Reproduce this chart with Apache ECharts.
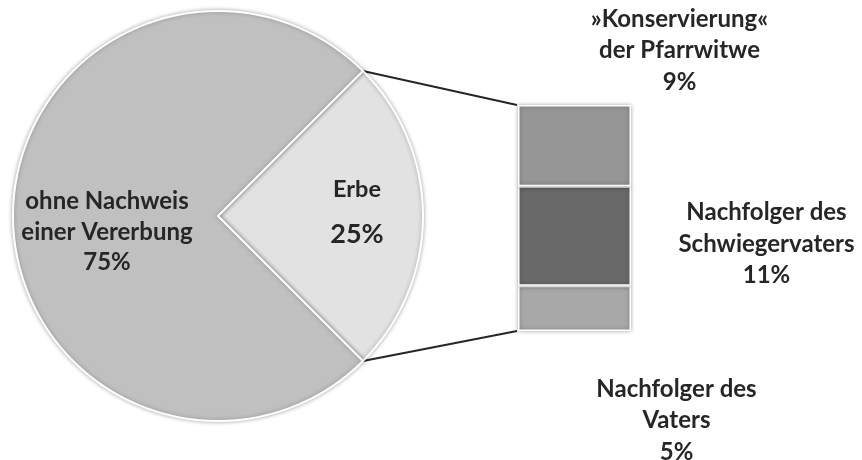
<!DOCTYPE html>
<html>
<head>
<meta charset="utf-8">
<script src="https://cdn.jsdelivr.net/npm/echarts@6/dist/echarts.min.js"></script>
<style>
  html, body { margin: 0; padding: 0; background: #fff; }
  #chart { width: 862px; height: 460px; }
</style>
</head>
<body>
<div id="chart"></div>
<script>
// pie: share of parishes
var pieNames = ['Erbe', 'ohne Nachweis\neiner Vererbung'];
var pieValues = [25, 75];
// bar: breakdown of "Erbe" (bottom to top)
var barNames = ['Nachfolger des\nVaters', 'Nachfolger des\nSchwiegervaters', '»Konservierung«\nder Pfarrwitwe'];
var barValues = [5, 11, 9];

var textColor = '#262626';
var font = 'Lato';
var pieCenter = [218, 216];
var pieRadius = 205;
var gridBox = { left: 518, top: 105, width: 113, height: 226 };

var chart = echarts.init(document.getElementById('chart'));

var barColors = ['#a8a8a8', '#696969', '#969696'];
var barLabelOffsets = [[102, 112], [192, 8], [105, -95]];
// label centres relative to the pie centre
var pieLabelShift = [[139, -4], [-111, 16]];
var barTotal = barValues.reduce(function (a, b) { return a + b; }, 0);
var pieTotal = pieValues.reduce(function (a, b) { return a + b; }, 0);
var halfAngle = pieValues[0] / pieTotal * 180; // degrees either side of 0

var barSeries = barValues.map(function (v, i) {
    return {
        name: barNames[i],
        type: 'bar',
        stack: 'erbe',
        barWidth: '100%',
        data: [v],
        itemStyle: {
            color: barColors[i],
            borderColor: '#fff',
            borderWidth: 1.5,
            shadowBlur: 4,
            shadowColor: 'rgba(0,0,0,0.35)'
        },
        label: {
            show: true,
            position: 'inside',
            offset: barLabelOffsets[i],
            formatter: '{a}\n{c}%',
            color: textColor,
            fontFamily: font,
            fontWeight: 'bold',
            fontSize: 24,
            lineHeight: 31.5,
            align: 'center'
        }
    };
});

var option = {
    animation: false,
    backgroundColor: '#fff',
    grid: gridBox,
    xAxis: { type: 'category', data: ['Erbe'], show: false },
    yAxis: { type: 'value', min: 0, max: barTotal, show: false },
    series: [
        {
            type: 'pie',
            center: pieCenter,
            radius: pieRadius,
            startAngle: halfAngle,
            clockwise: true,
            silent: true,
            data: pieValues.map(function (v, i) {
                return { name: pieNames[i], value: v };
            }),
            color: ['#e2e2e2', '#c0c0c0'],
            itemStyle: {
                borderColor: '#fff',
                borderWidth: 2,
                shadowBlur: 4,
                shadowColor: 'rgba(0,0,0,0.3)'
            },
            label: {
                show: true,
                position: 'inside',
                color: textColor,
                fontFamily: font,
                fontWeight: 'bold',
                fontSize: 24,
                lineHeight: 30.5,
                formatter: function (p) {
                    if (p.dataIndex === 0) {
                        return '{n|' + p.name + '}\n{p|' + p.value + '%}';
                    }
                    return p.name + '\n' + p.value + '%';
                },
                rich: {
                    n: { fontFamily: font, fontWeight: 'bold', fontSize: 23.5, color: textColor, lineHeight: 45 },
                    p: { fontFamily: font, fontWeight: 'bold', fontSize: 27, color: textColor, lineHeight: 45 }
                }
            },
            labelLine: { show: false },
            labelLayout: function (params) {
                var s = pieLabelShift[params.dataIndex];
                return {
                    x: pieCenter[0] + s[0],
                    y: pieCenter[1] + s[1],
                    align: 'center',
                    verticalAlign: 'middle'
                };
            }
        }
    ].concat(barSeries)
};

chart.setOption(option);

// connector lines from the Erbe slice edge to the bar corners
var rad = halfAngle * Math.PI / 180;
var pTop = [pieCenter[0] + pieRadius * Math.cos(rad), pieCenter[1] - pieRadius * Math.sin(rad)];
var pBot = [pieCenter[0] + pieRadius * Math.cos(rad), pieCenter[1] + pieRadius * Math.sin(rad)];
var yTop = chart.convertToPixel({ yAxisIndex: 0 }, barTotal);
var yBot = chart.convertToPixel({ yAxisIndex: 0 }, 0);
chart.setOption({
    graphic: [
        { type: 'line', shape: { x1: pTop[0], y1: pTop[1], x2: gridBox.left - 1, y2: yTop }, style: { stroke: '#262626', lineWidth: 2 }, z: 1 },
        { type: 'line', shape: { x1: pBot[0], y1: pBot[1], x2: gridBox.left - 1, y2: yBot }, style: { stroke: '#262626', lineWidth: 2 }, z: 1 }
    ]
});
</script>
</body>
</html>
